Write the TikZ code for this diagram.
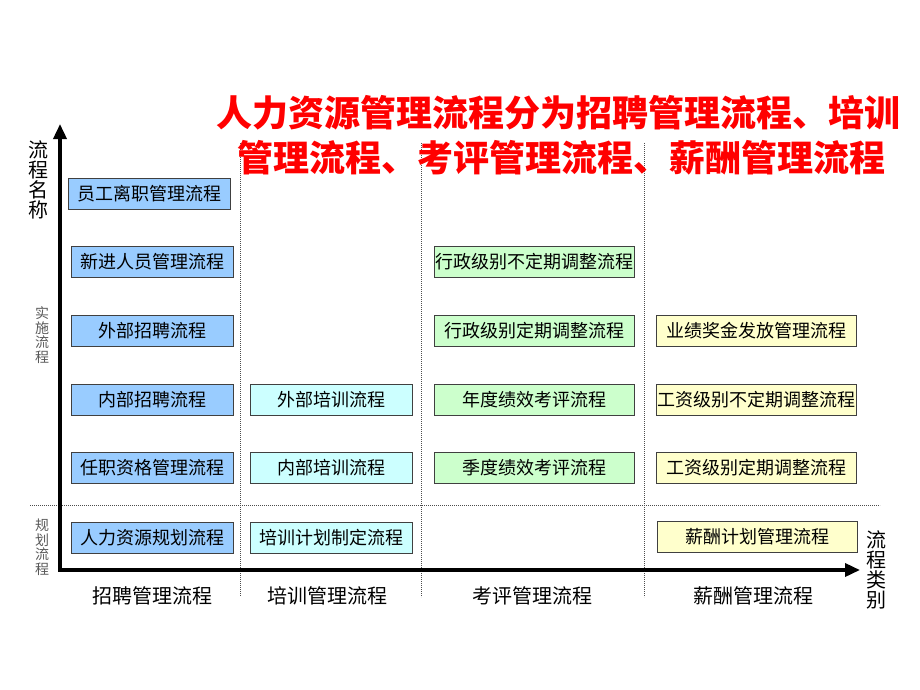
\documentclass[tikz,border=0pt]{standalone}
\usepackage{fontspec}
\setmainfont{Noto Sans CJK SC}
\usetikzlibrary{arrows.meta}
\definecolor{zpblue}{HTML}{99CCFF}
\definecolor{pxcyan}{HTML}{CCFFFF}
\definecolor{kpgreen}{HTML}{CCFFCC}
\definecolor{xcyellow}{HTML}{FFFFCC}
\begin{document}
\begin{tikzpicture}[x=1pt,y=-1pt,
    box/.style={draw=black!75,line width=1pt,minimum width=162pt,minimum height=31pt,
      inner sep=0pt,font=\fontsize{18}{18}\selectfont},
    widebox/.style={box,minimum width=200pt},
    zpbox/.style={box,fill=zpblue},
    pxbox/.style={box,fill=pxcyan},
    kpbox/.style={widebox,fill=kpgreen},
    xcbox/.style={widebox,fill=xcyellow},
    sep/.style={black!70,line width=0.8pt,dash pattern=on 0.8pt off 1.2pt},
    axislabel/.style={align=center,inner sep=0pt,font=\fontsize{20}{20}\selectfont},
    steplabel/.style={align=center,inner sep=0pt,text=black!65,font=\fontsize{14}{14.5}\selectfont},
    catlabel/.style={inner sep=0pt,font=\fontsize{20}{20}\selectfont}]
  \useasboundingbox (0,0) rectangle (920,690);
  % separators
  \draw[sep] (240,143) -- (240,596);
  \draw[sep] (421,143) -- (421,597);
  \draw[sep] (644,143) -- (644,597);
  \draw[sep] (30,505) -- (880,505);
  % axes
  \coordinate (o) at (60,570);
  \coordinate (ytop) at (60,124);
  \coordinate (xend) at (860,570);
  \draw[line width=3.5pt,{Triangle[length=15pt,width=13pt]}-{Triangle[length=15pt,width=13pt]}]
    (ytop) -- (o) -- (xend);
  % title
  \node[text=red,font=\fontsize{36}{36}\selectfont\bfseries] (title1) at (558,113) {人力资源管理流程分为招聘管理流程、培训};
  \node[text=red,font=\fontsize{36}{36}\selectfont\bfseries] (title2) at (561,158) {管理流程、考评管理流程、薪酬管理流程};
  % axis labels
  \node[axislabel] (yname) at (38,180) {流\\程\\名\\称};
  \node[axislabel] (xname) at (876,570) {流\\程\\类\\别};
  \node[steplabel] (impl) at (42,335) {实\\施\\流\\程};
  \node[steplabel] (plan) at (42,547) {规\\划\\流\\程};
  % recruitment
  \node[zpbox] (zp1) at (149,194) {员工离职管理流程};
  \node[zpbox] (zp2) at (152,262) {新进人员管理流程};
  \node[zpbox] (zp3) at (152,331) {外部招聘流程};
  \node[zpbox] (zp4) at (152,400) {内部招聘流程};
  \node[zpbox] (zp5) at (152,468) {任职资格管理流程};
  \node[zpbox] (zp6) at (152,538) {人力资源规划流程};
  % training
  \node[pxbox] (px1) at (331,400) {外部培训流程};
  \node[pxbox] (px2) at (331,468) {内部培训流程};
  \node[pxbox] (px3) at (331,538) {培训计划制定流程};
  % appraisal
  \node[kpbox] (kp1) at (534,262) {行政级别不定期调整流程};
  \node[kpbox] (kp2) at (534,331) {行政级别定期调整流程};
  \node[kpbox] (kp3) at (534,400) {年度绩效考评流程};
  \node[kpbox] (kp4) at (534,468) {季度绩效考评流程};
  % pay
  \node[xcbox] (xc1) at (756,331) {业绩奖金发放管理流程};
  \node[xcbox] (xc2) at (756,400) {工资级别不定期调整流程};
  \node[xcbox] (xc3) at (756,468) {工资级别定期调整流程};
  \node[xcbox] (xc4) at (757,537) {薪酬计划管理流程};
  % categories
  \node[catlabel] (cat1) at (152,596) {招聘管理流程};
  \node[catlabel] (cat2) at (327,596) {培训管理流程};
  \node[catlabel] (cat3) at (532,596) {考评管理流程};
  \node[catlabel] (cat4) at (753,596) {薪酬管理流程};
\end{tikzpicture}
\end{document}
